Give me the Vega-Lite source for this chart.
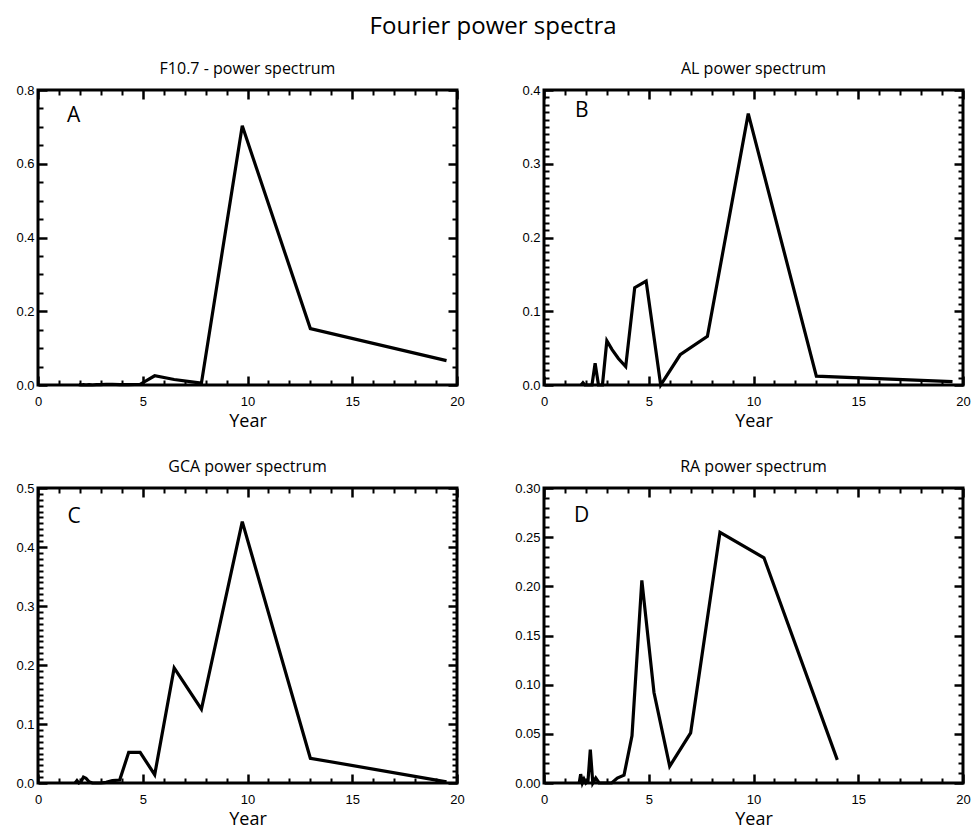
{
  "$schema": "https://vega.github.io/schema/vega-lite/v6.json",
  "title": {"text": "Fourier power spectra", "fontSize": 24, "anchor": "middle", "offset": 21},
  "padding": {"left": 14, "top": 14, "right": 5, "bottom": 5},
  "columns": 2,
  "spacing": {"row": 103, "column": 87},
  "bounds": "flush",
  "concat": [
    {
      "title": {"text": "F10.7 - power spectrum", "fontSize": 16, "offset": 7},
      "width": 419, "height": 295,
      "data": {"values": [
        {"year": 1.95, "power": 0.001}, {"year": 2.05, "power": 0.0}, {"year": 2.17, "power": 0.001},
        {"year": 2.29, "power": 0.0}, {"year": 2.44, "power": 0.001}, {"year": 2.6, "power": 0.0},
        {"year": 2.79, "power": 0.001}, {"year": 3.0, "power": 0.001}, {"year": 3.25, "power": 0.002},
        {"year": 3.55, "power": 0.002}, {"year": 3.9, "power": 0.001}, {"year": 4.33, "power": 0.001},
        {"year": 4.875, "power": 0.002}, {"year": 5.57, "power": 0.025}, {"year": 6.5, "power": 0.015},
        {"year": 7.8, "power": 0.005}, {"year": 9.75, "power": 0.703}, {"year": 13.0, "power": 0.153},
        {"year": 19.5, "power": 0.066}
      ]},
      "resolve": {"axis": {"x": "independent", "y": "independent"}},
      "layer": [
        {"mark": {"type": "line", "color": "black", "strokeWidth": 3.2, "strokeJoin": "miter"},
         "encoding": {
           "x": {"field": "year", "type": "quantitative", "scale": {"domain": [0, 20], "nice": false},
                 "axis": {"orient": "bottom", "values": [0, 5, 10, 15, 20], "format": "d", "offset": -9, "tickSize": 9, "tickColor": "black", "tickWidth": 2.5, "labelPadding": 10, "title": "Year", "titlePadding": 4}},
           "y": {"field": "power", "type": "quantitative", "scale": {"domain": [0, 0.8], "nice": false},
                 "axis": {"orient": "left", "values": [0, 0.2, 0.4, 0.6, 0.8], "format": ".1f", "offset": -9, "tickSize": 9, "tickColor": "black", "tickWidth": 2.5, "labelPadding": 4, "title": null}}
         }},
        {"mark": {"type": "line", "opacity": 0},
         "encoding": {
           "x": {"field": "year", "type": "quantitative", "axis": {"orient": "top", "values": [0, 5, 10, 15, 20], "offset": -9, "tickSize": 9, "tickColor": "black", "tickWidth": 2.5, "labels": false, "title": null}},
           "y": {"field": "power", "type": "quantitative", "axis": {"orient": "right", "values": [0, 0.2, 0.4, 0.6, 0.8], "offset": -9, "tickSize": 9, "tickColor": "black", "tickWidth": 2.5, "labels": false, "title": null}}
         }},
        {"mark": {"type": "line", "opacity": 0},
         "encoding": {
           "x": {"field": "year", "type": "quantitative", "axis": {"orient": "bottom", "values": [1,2,3,4,6,7,8,9,11,12,13,14,16,17,18,19], "offset": -5, "tickSize": 5, "tickColor": "black", "tickWidth": 2, "labels": false, "title": null}},
           "y": {"field": "power", "type": "quantitative", "axis": {"orient": "left", "values": [0.05,0.1,0.15,0.25,0.3,0.35,0.45,0.5,0.55,0.65,0.7,0.75], "offset": -5, "tickSize": 5, "tickColor": "black", "tickWidth": 2, "labels": false, "title": null}}
         }},
        {"mark": {"type": "line", "opacity": 0},
         "encoding": {
           "x": {"field": "year", "type": "quantitative", "axis": {"orient": "top", "values": [1,2,3,4,6,7,8,9,11,12,13,14,16,17,18,19], "offset": -5, "tickSize": 5, "tickColor": "black", "tickWidth": 2, "labels": false, "title": null}},
           "y": {"field": "power", "type": "quantitative", "axis": {"orient": "right", "values": [0.05,0.1,0.15,0.25,0.3,0.35,0.45,0.5,0.55,0.65,0.7,0.75], "offset": -5, "tickSize": 5, "tickColor": "black", "tickWidth": 2, "labels": false, "title": null}}
         }},
        {"data": {"values": [{"lab": "A"}]},
         "mark": {"type": "text", "font": "Open Sans", "fontSize": 21, "align": "center", "baseline": "middle", "color": "black"},
         "encoding": {
           "x": {"datum": 1.7, "type": "quantitative", "axis": null},
           "y": {"datum": 0.73, "type": "quantitative", "axis": null},
           "text": {"field": "lab"}
         }}
      ]
    },
    {
      "title": {"text": "AL power spectrum", "fontSize": 16, "offset": 7},
      "width": 419, "height": 295,
      "data": {"values": [
        {"year": 1.77, "power": 0.0}, {"year": 1.86, "power": 0.003}, {"year": 1.95, "power": 0.0},
        {"year": 2.05, "power": 0.0}, {"year": 2.17, "power": 0.0}, {"year": 2.29, "power": 0.0},
        {"year": 2.44, "power": 0.0295}, {"year": 2.6, "power": 0.0}, {"year": 2.79, "power": 0.0},
        {"year": 3.0, "power": 0.06}, {"year": 3.25, "power": 0.048}, {"year": 3.55, "power": 0.036},
        {"year": 3.9, "power": 0.025}, {"year": 4.33, "power": 0.132}, {"year": 4.875, "power": 0.141},
        {"year": 5.57, "power": 0.0}, {"year": 6.5, "power": 0.041}, {"year": 7.8, "power": 0.066},
        {"year": 9.75, "power": 0.368}, {"year": 13.0, "power": 0.012}, {"year": 19.5, "power": 0.0045}
      ]},
      "resolve": {"axis": {"x": "independent", "y": "independent"}},
      "layer": [
        {"mark": {"type": "line", "color": "black", "strokeWidth": 3.2, "strokeJoin": "miter"},
         "encoding": {
           "x": {"field": "year", "type": "quantitative", "scale": {"domain": [0, 20], "nice": false},
                 "axis": {"orient": "bottom", "values": [0, 5, 10, 15, 20], "format": "d", "offset": -9, "tickSize": 9, "tickColor": "black", "tickWidth": 2.5, "labelPadding": 10, "title": "Year", "titlePadding": 4}},
           "y": {"field": "power", "type": "quantitative", "scale": {"domain": [0, 0.4], "nice": false},
                 "axis": {"orient": "left", "values": [0, 0.1, 0.2, 0.3, 0.4], "format": ".1f", "offset": -9, "tickSize": 9, "tickColor": "black", "tickWidth": 2.5, "labelPadding": 4, "title": null}}
         }},
        {"mark": {"type": "line", "opacity": 0},
         "encoding": {
           "x": {"field": "year", "type": "quantitative", "axis": {"orient": "top", "values": [0, 5, 10, 15, 20], "offset": -9, "tickSize": 9, "tickColor": "black", "tickWidth": 2.5, "labels": false, "title": null}},
           "y": {"field": "power", "type": "quantitative", "axis": {"orient": "right", "values": [0, 0.1, 0.2, 0.3, 0.4], "offset": -9, "tickSize": 9, "tickColor": "black", "tickWidth": 2.5, "labels": false, "title": null}}
         }},
        {"mark": {"type": "line", "opacity": 0},
         "encoding": {
           "x": {"field": "year", "type": "quantitative", "axis": {"orient": "bottom", "values": [1,2,3,4,6,7,8,9,11,12,13,14,16,17,18,19], "offset": -5, "tickSize": 5, "tickColor": "black", "tickWidth": 2, "labels": false, "title": null}},
           "y": {"field": "power", "type": "quantitative", "axis": {"orient": "left", "values": [0.01,0.02,0.03,0.04,0.05,0.06,0.07,0.08,0.09,0.11,0.12,0.13,0.14,0.15,0.16,0.17,0.18,0.19,0.21,0.22,0.23,0.24,0.25,0.26,0.27,0.28,0.29,0.31,0.32,0.33,0.34,0.35,0.36,0.37,0.38,0.39], "offset": -5, "tickSize": 5, "tickColor": "black", "tickWidth": 2, "labels": false, "title": null}}
         }},
        {"mark": {"type": "line", "opacity": 0},
         "encoding": {
           "x": {"field": "year", "type": "quantitative", "axis": {"orient": "top", "values": [1,2,3,4,6,7,8,9,11,12,13,14,16,17,18,19], "offset": -5, "tickSize": 5, "tickColor": "black", "tickWidth": 2, "labels": false, "title": null}},
           "y": {"field": "power", "type": "quantitative", "axis": {"orient": "right", "values": [0.01,0.02,0.03,0.04,0.05,0.06,0.07,0.08,0.09,0.11,0.12,0.13,0.14,0.15,0.16,0.17,0.18,0.19,0.21,0.22,0.23,0.24,0.25,0.26,0.27,0.28,0.29,0.31,0.32,0.33,0.34,0.35,0.36,0.37,0.38,0.39], "offset": -5, "tickSize": 5, "tickColor": "black", "tickWidth": 2, "labels": false, "title": null}}
         }},
        {"data": {"values": [{"lab": "B"}]},
         "mark": {"type": "text", "font": "Open Sans", "fontSize": 21, "align": "center", "baseline": "middle", "color": "black"},
         "encoding": {
           "x": {"datum": 1.8, "type": "quantitative", "axis": null},
           "y": {"datum": 0.371, "type": "quantitative", "axis": null},
           "text": {"field": "lab"}
         }}
      ]
    },
    {
      "title": {"text": "GCA power spectrum", "fontSize": 16, "offset": 7},
      "width": 419, "height": 295,
      "data": {"values": [
        {"year": 1.77, "power": 0.0}, {"year": 1.86, "power": 0.004}, {"year": 1.95, "power": 0.0},
        {"year": 2.05, "power": 0.002}, {"year": 2.17, "power": 0.01}, {"year": 2.29, "power": 0.008},
        {"year": 2.44, "power": 0.002}, {"year": 2.6, "power": 0.0}, {"year": 2.79, "power": 0.0},
        {"year": 3.0, "power": 0.0}, {"year": 3.25, "power": 0.001}, {"year": 3.55, "power": 0.004},
        {"year": 3.9, "power": 0.005}, {"year": 4.33, "power": 0.052}, {"year": 4.875, "power": 0.052},
        {"year": 5.57, "power": 0.014}, {"year": 6.5, "power": 0.195}, {"year": 7.8, "power": 0.125},
        {"year": 9.75, "power": 0.443}, {"year": 13.0, "power": 0.042}, {"year": 19.5, "power": 0.002}
      ]},
      "resolve": {"axis": {"x": "independent", "y": "independent"}},
      "layer": [
        {"mark": {"type": "line", "color": "black", "strokeWidth": 3.2, "strokeJoin": "miter"},
         "encoding": {
           "x": {"field": "year", "type": "quantitative", "scale": {"domain": [0, 20], "nice": false},
                 "axis": {"orient": "bottom", "values": [0, 5, 10, 15, 20], "format": "d", "offset": -9, "tickSize": 9, "tickColor": "black", "tickWidth": 2.5, "labelPadding": 10, "title": "Year", "titlePadding": 4}},
           "y": {"field": "power", "type": "quantitative", "scale": {"domain": [0, 0.5], "nice": false},
                 "axis": {"orient": "left", "values": [0, 0.1, 0.2, 0.3, 0.4, 0.5], "format": ".1f", "offset": -9, "tickSize": 9, "tickColor": "black", "tickWidth": 2.5, "labelPadding": 4, "title": null}}
         }},
        {"mark": {"type": "line", "opacity": 0},
         "encoding": {
           "x": {"field": "year", "type": "quantitative", "axis": {"orient": "top", "values": [0, 5, 10, 15, 20], "offset": -9, "tickSize": 9, "tickColor": "black", "tickWidth": 2.5, "labels": false, "title": null}},
           "y": {"field": "power", "type": "quantitative", "axis": {"orient": "right", "values": [0, 0.1, 0.2, 0.3, 0.4, 0.5], "offset": -9, "tickSize": 9, "tickColor": "black", "tickWidth": 2.5, "labels": false, "title": null}}
         }},
        {"mark": {"type": "line", "opacity": 0},
         "encoding": {
           "x": {"field": "year", "type": "quantitative", "axis": {"orient": "bottom", "values": [1,2,3,4,6,7,8,9,11,12,13,14,16,17,18,19], "offset": -5, "tickSize": 5, "tickColor": "black", "tickWidth": 2, "labels": false, "title": null}},
           "y": {"field": "power", "type": "quantitative", "axis": {"orient": "left", "values": [0.01,0.02,0.03,0.04,0.05,0.06,0.07,0.08,0.09,0.11,0.12,0.13,0.14,0.15,0.16,0.17,0.18,0.19,0.21,0.22,0.23,0.24,0.25,0.26,0.27,0.28,0.29,0.31,0.32,0.33,0.34,0.35,0.36,0.37,0.38,0.39,0.41,0.42,0.43,0.44,0.45,0.46,0.47,0.48,0.49], "offset": -5, "tickSize": 5, "tickColor": "black", "tickWidth": 2, "labels": false, "title": null}}
         }},
        {"mark": {"type": "line", "opacity": 0},
         "encoding": {
           "x": {"field": "year", "type": "quantitative", "axis": {"orient": "top", "values": [1,2,3,4,6,7,8,9,11,12,13,14,16,17,18,19], "offset": -5, "tickSize": 5, "tickColor": "black", "tickWidth": 2, "labels": false, "title": null}},
           "y": {"field": "power", "type": "quantitative", "axis": {"orient": "right", "values": [0.01,0.02,0.03,0.04,0.05,0.06,0.07,0.08,0.09,0.11,0.12,0.13,0.14,0.15,0.16,0.17,0.18,0.19,0.21,0.22,0.23,0.24,0.25,0.26,0.27,0.28,0.29,0.31,0.32,0.33,0.34,0.35,0.36,0.37,0.38,0.39,0.41,0.42,0.43,0.44,0.45,0.46,0.47,0.48,0.49], "offset": -5, "tickSize": 5, "tickColor": "black", "tickWidth": 2, "labels": false, "title": null}}
         }},
        {"data": {"values": [{"lab": "C"}]},
         "mark": {"type": "text", "font": "Open Sans", "fontSize": 21, "align": "center", "baseline": "middle", "color": "black"},
         "encoding": {
           "x": {"datum": 1.72, "type": "quantitative", "axis": null},
           "y": {"datum": 0.451, "type": "quantitative", "axis": null},
           "text": {"field": "lab"}
         }}
      ]
    },
    {
      "title": {"text": "RA power spectrum", "fontSize": 16, "offset": 7},
      "width": 419, "height": 295,
      "data": {"values": [
        {"year": 1.68, "power": 0.0}, {"year": 1.75, "power": 0.009}, {"year": 1.83, "power": 0.0},
        {"year": 1.91, "power": 0.004}, {"year": 2.0, "power": 0.0}, {"year": 2.1, "power": 0.002},
        {"year": 2.21, "power": 0.034}, {"year": 2.33, "power": 0.0}, {"year": 2.47, "power": 0.005},
        {"year": 2.63, "power": 0.0}, {"year": 2.8, "power": 0.0}, {"year": 3.0, "power": 0.0},
        {"year": 3.23, "power": 0.0}, {"year": 3.5, "power": 0.005}, {"year": 3.82, "power": 0.008},
        {"year": 4.2, "power": 0.048}, {"year": 4.67, "power": 0.206}, {"year": 5.25, "power": 0.092},
        {"year": 6.0, "power": 0.017}, {"year": 7.0, "power": 0.051}, {"year": 8.4, "power": 0.255},
        {"year": 10.5, "power": 0.229}, {"year": 14.0, "power": 0.0235}
      ]},
      "resolve": {"axis": {"x": "independent", "y": "independent"}},
      "layer": [
        {"mark": {"type": "line", "color": "black", "strokeWidth": 3.2, "strokeJoin": "miter"},
         "encoding": {
           "x": {"field": "year", "type": "quantitative", "scale": {"domain": [0, 20], "nice": false},
                 "axis": {"orient": "bottom", "values": [0, 5, 10, 15, 20], "format": "d", "offset": -9, "tickSize": 9, "tickColor": "black", "tickWidth": 2.5, "labelPadding": 10, "title": "Year", "titlePadding": 4}},
           "y": {"field": "power", "type": "quantitative", "scale": {"domain": [0, 0.3], "nice": false},
                 "axis": {"orient": "left", "values": [0, 0.05, 0.1, 0.15, 0.2, 0.25, 0.3], "format": ".2f", "offset": -9, "tickSize": 9, "tickColor": "black", "tickWidth": 2.5, "labelPadding": 4, "title": null}}
         }},
        {"mark": {"type": "line", "opacity": 0},
         "encoding": {
           "x": {"field": "year", "type": "quantitative", "axis": {"orient": "top", "values": [0, 5, 10, 15, 20], "offset": -9, "tickSize": 9, "tickColor": "black", "tickWidth": 2.5, "labels": false, "title": null}},
           "y": {"field": "power", "type": "quantitative", "axis": {"orient": "right", "values": [0, 0.05, 0.1, 0.15, 0.2, 0.25, 0.3], "offset": -9, "tickSize": 9, "tickColor": "black", "tickWidth": 2.5, "labels": false, "title": null}}
         }},
        {"mark": {"type": "line", "opacity": 0},
         "encoding": {
           "x": {"field": "year", "type": "quantitative", "axis": {"orient": "bottom", "values": [1,2,3,4,6,7,8,9,11,12,13,14,16,17,18,19], "offset": -5, "tickSize": 5, "tickColor": "black", "tickWidth": 2, "labels": false, "title": null}},
           "y": {"field": "power", "type": "quantitative", "axis": {"orient": "left", "values": [0.01,0.02,0.03,0.04,0.06,0.07,0.08,0.09,0.11,0.12,0.13,0.14,0.16,0.17,0.18,0.19,0.21,0.22,0.23,0.24,0.26,0.27,0.28,0.29], "offset": -5, "tickSize": 5, "tickColor": "black", "tickWidth": 2, "labels": false, "title": null}}
         }},
        {"mark": {"type": "line", "opacity": 0},
         "encoding": {
           "x": {"field": "year", "type": "quantitative", "axis": {"orient": "top", "values": [1,2,3,4,6,7,8,9,11,12,13,14,16,17,18,19], "offset": -5, "tickSize": 5, "tickColor": "black", "tickWidth": 2, "labels": false, "title": null}},
           "y": {"field": "power", "type": "quantitative", "axis": {"orient": "right", "values": [0.01,0.02,0.03,0.04,0.06,0.07,0.08,0.09,0.11,0.12,0.13,0.14,0.16,0.17,0.18,0.19,0.21,0.22,0.23,0.24,0.26,0.27,0.28,0.29], "offset": -5, "tickSize": 5, "tickColor": "black", "tickWidth": 2, "labels": false, "title": null}}
         }},
        {"data": {"values": [{"lab": "D"}]},
         "mark": {"type": "text", "font": "Open Sans", "fontSize": 21, "align": "center", "baseline": "middle", "color": "black"},
         "encoding": {
           "x": {"datum": 1.8, "type": "quantitative", "axis": null},
           "y": {"datum": 0.272, "type": "quantitative", "axis": null},
           "text": {"field": "lab"}
         }}
      ]
    }
  ],
  "config": {
    "view": {"stroke": "black", "strokeWidth": 3},
    "axis": {"domain": false, "grid": false, "labelFont": "Liberation Sans", "labelFontSize": 13, "labelColor": "black", "labelFlush": false, "labelOverlap": false, "titleFont": "Open Sans", "titleFontSize": 18, "titleFontWeight": "normal", "titleColor": "black"},
    "title": {"font": "Open Sans", "fontWeight": "normal", "color": "black"}
  }
}
